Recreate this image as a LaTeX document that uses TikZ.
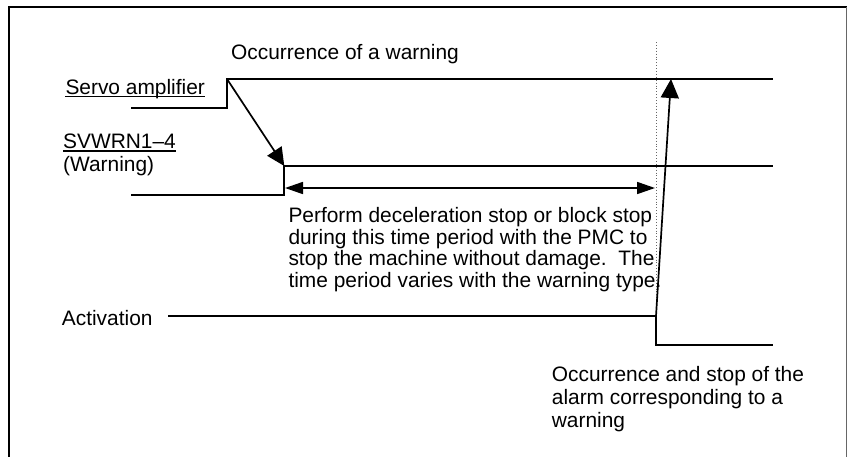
\documentclass[tikz,border=0pt]{standalone}
\usepackage{fontspec}
\setmainfont{Liberation Sans}
\usetikzlibrary{arrows.meta}
\begin{document}
\begin{tikzpicture}[x=1pt,y=-1pt,
  lbl/.style={inner sep=0pt, anchor=base west, font=\fontsize{20.9}{22}\selectfont},
  sig/.style={line width=2pt, line join=miter},
  bigarrow/.style={line width=1.7pt, -{Triangle[length=18pt,width=17pt]}},
  duparrow/.style={line width=1.7pt, {Triangle[length=18pt,width=12pt]}-{Triangle[length=18pt,width=12pt]}},
  uline/.style={line width=1.3pt}]
\useasboundingbox (0,0) rectangle (848,456);
\begin{scope}
\clip (0,0) rectangle (848,456);
\draw[line width=2pt] (9,460) -- (9,7.3) -- (846.5,7.3);
\draw[line width=1pt, black!60] (846.5,7.3) -- (846.5,460);
\end{scope}

% coordinates
\coordinate (s0) at (131,108);
\coordinate (s1) at (227,108);
\coordinate (s2) at (227,79);
\coordinate (s3) at (773,79);
\coordinate (w0) at (131,195);
\coordinate (w1) at (284.3,195);
\coordinate (w2) at (284.3,166);
\coordinate (w3) at (773,166);
\coordinate (a0) at (168,316);
\coordinate (a1) at (656,316);
\coordinate (a2) at (656,344.5);
\coordinate (a3) at (773,344.5);
\coordinate (dl) at (285,188);
\coordinate (dr) at (655,188);
\coordinate (vt) at (656,42);
\coordinate (vb) at (656,316);
\coordinate (up) at (671,79);

% dotted guide
\draw[dotted, line width=0.9pt, black!60] (vt) -- (vb);

% signals
\draw[sig] (s0) -- (s1) -- (s2) -- (s3);
\draw[sig] (w0) -- (w1) -- (w2) -- (w3);
\draw[sig] (a0) -- (a1) -- (a2) -- (a3);

% arrows
\draw[bigarrow] (s2) -- (w2);
\draw[duparrow] (dl) -- (dr);
\draw[line width=1.7pt, -{Triangle[length=19pt,width=18pt]}] (a1) -- (up);

% labels
\node[lbl] (occ) at (231,59) {Occurrence of a warning};
\node[lbl] (servo) at (65.3,94) {Servo amplifier};
\draw[uline] ([yshift=-2.7pt]servo.base west) -- ([yshift=-2.7pt]servo.base east);
\node[lbl] (svw) at (63,148.3) {SVWRN1–4};
\draw[uline] ([yshift=-2.7pt]svw.base west) -- ([yshift=-2.7pt]svw.base east);
\node[lbl] (warn) at (63,171) {(Warning)};
\node[lbl] (act) at (61.7,325) {Activation};

\node[lbl] (p1) at (288.3,222.3) {Perform deceleration stop or block stop};
\node[lbl] (p2) at (288.3,244) {during this time period with the PMC to};
\node[lbl] (p3) at (288.3,265.6) {stop the machine without damage.\ \ The};
\node[lbl] (p4) at (288.3,287.3) {time period varies with the warning type.};

\node[lbl] (o1) at (551.7,381.7) {Occurrence and stop of the};
\node[lbl] (o2) at (551.7,404.7) {alarm corresponding to a};
\node[lbl] (o3) at (551.7,427.7) {warning};
\end{tikzpicture}
\end{document}
